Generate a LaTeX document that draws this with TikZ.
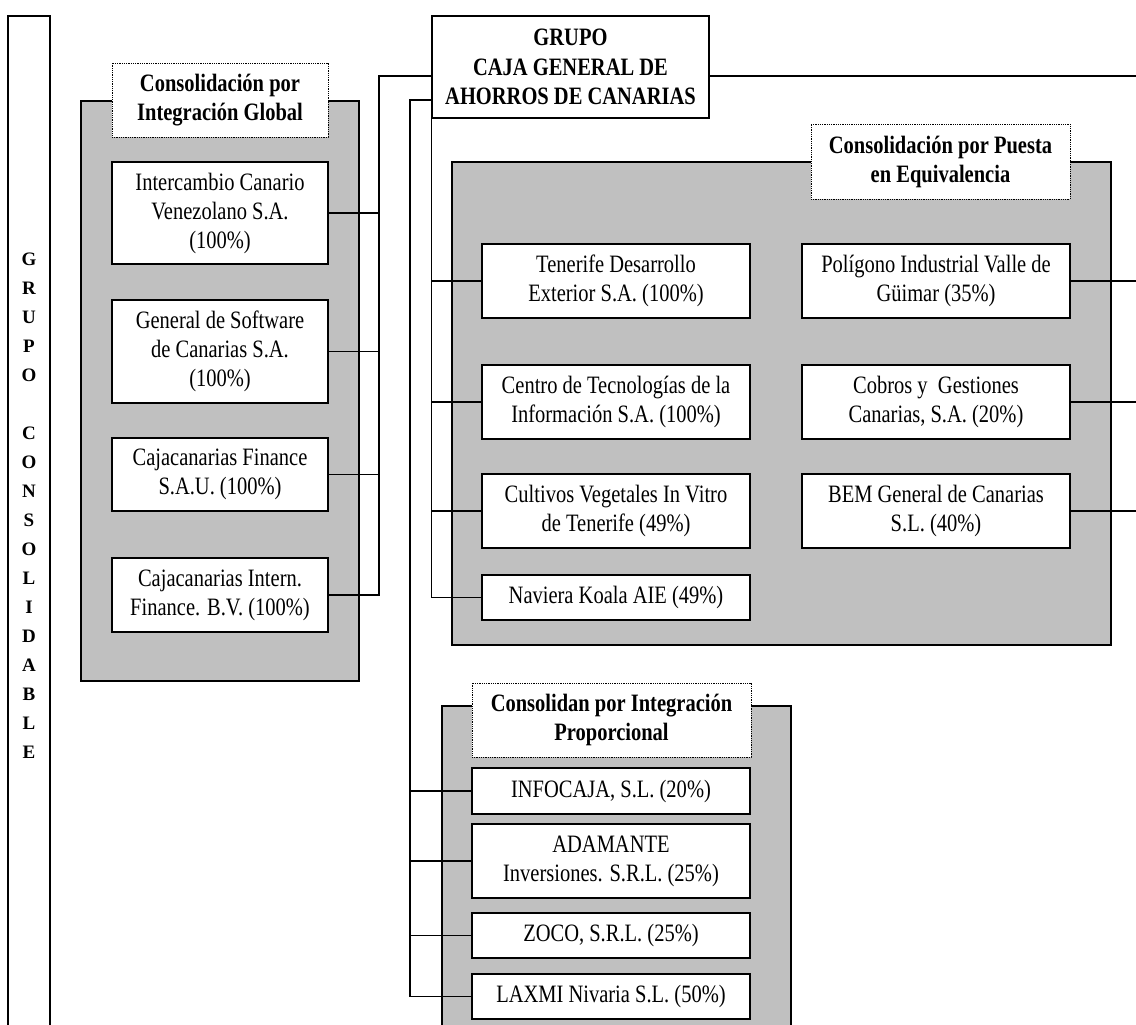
\documentclass[tikz,border=0pt]{standalone}
\usepackage{fontspec}
\setmainfont{Liberation Serif}[FakeStretch=0.82]
\newfontfamily\wideserif{Liberation Serif}
\usepackage{tikz}
\definecolor{panelgray}{HTML}{C0C0C0}

\begin{document}
\begin{tikzpicture}[x=1pt,y=-1pt,line width=1.2pt,
    box/.style={draw,fill=white,align=center,inner sep=0pt,font=\fontsize{25}{29}\selectfont},
    panel/.style={draw,fill=panelgray,inner sep=0pt},
    head/.style={draw,densely dotted,line width=0.8pt,fill=white,align=center,inner sep=0pt,font=\fontsize{25}{29}\selectfont\bfseries}]
          \useasboundingbox (0,0) rectangle (1136,1025);

          \draw (8,1025) |- (50,16) -- (50,1025);
          \node[align=center,font=\wideserif\fontsize{19}{29}\selectfont\bfseries] (gcons) at (29,506) {G\\R\\U\\P\\O\\[29pt]C\\O\\N\\S\\O\\L\\I\\D\\A\\B\\L\\E};

          \node[panel,minimum width=278pt,minimum height=580pt] (pglob) at (220,391) {};
          \node[panel,minimum width=659pt,minimum height=483pt] (pequi) at (781.5,403.5) {};
          \fill[panelgray] (442,706) rectangle (791,1025);
          \draw (442,1025) |- (791,706) -- (791,1025);

          \node[head,minimum width=216pt,minimum height=74pt] (hglob) at (220,100) {Consolidación por\\Integración Global};
          \node[head,minimum width=259pt,minimum height=75pt] (hequi) at (940.5,161.5) {Consolidación por Puesta\\en Equivalencia};
          \node[head,minimum width=279pt,minimum height=74pt] (hprop) at (611.5,720) {Consolidan por Integración\\Proporcional};

          \node[box,font=\fontsize{25}{29.5}\selectfont\bfseries,minimum width=277pt,minimum height=102pt] (caja) at (570.5,67) {GRUPO\\CAJA GENERAL DE\\AHORROS DE CANARIAS};

          \node[box,minimum width=216pt,minimum height=102pt] (icv) at (220,213) {Intercambio Canario\\Venezolano S.A.\\(100\%)};
          \node[box,minimum width=216pt,minimum height=103pt] (gsc) at (220,351.5) {General de Software\\de Canarias S.A.\\(100\%)};
          \node[box,minimum width=216pt,minimum height=73pt] (ccf) at (220,474.5) {Cajacanarias Finance\\S.A.U. (100\%)};
          \node[box,minimum width=216pt,minimum height=74pt] (cci) at (220,595) {Cajacanarias Intern.\\Finance. B.V. (100\%)};

          \node[box,minimum width=268pt,minimum height=74pt] (tde) at (616,281) {Tenerife Desarrollo\\Exterior S.A. (100\%)};
          \node[box,minimum width=268pt,minimum height=74pt] (cti) at (616,402) {Centro de Tecnologías de la\\Información S.A. (100\%)};
          \node[box,minimum width=268pt,minimum height=74pt] (cvt) at (616,511) {Cultivos Vegetales In Vitro\\de Tenerife (49\%)};
          \node[box,minimum width=268pt,minimum height=45pt] (nka) at (616,597.5) {Naviera Koala AIE (49\%)};
          \node[box,minimum width=268pt,minimum height=74pt] (piv) at (936,281) {Polígono Industrial Valle de\\Güimar (35\%)};
          \node[box,minimum width=268pt,minimum height=74pt] (cgc) at (936,402) {Cobros y\ \ Gestiones\\Canarias, S.A. (20\%)};
          \node[box,minimum width=268pt,minimum height=74pt] (bem) at (936,511) {BEM General de Canarias\\S.L. (40\%)};

          \node[box,minimum width=278pt,minimum height=46pt] (info) at (611,791) {INFOCAJA, S.L. (20\%)};
          \node[box,minimum width=278pt,minimum height=74pt] (adam) at (611,861) {ADAMANTE\\Inversiones. S.R.L. (25\%)};
          \node[box,minimum width=278pt,minimum height=45pt] (zoco) at (611,935.5) {ZOCO, S.R.L. (25\%)};
          \node[box,minimum width=278pt,minimum height=45pt] (laxmi) at (611,996.5) {LAXMI Nivaria S.L. (50\%)};

          \coordinate (busg) at (379,0);
          \coordinate (busp) at (410,0);
          \coordinate (rim) at (1136,0);

          \draw ([yshift=-9pt]caja.west) -| (cci.east -| busg) -- (cci.east);
          \foreach \b in {icv,gsc,ccf} \draw (\b.east) -- (\b.east -| busg);

          \draw ([yshift=-33pt]caja.west) -| (laxmi.west -| busp) -- (laxmi.west);
          \foreach \b in {info,adam,zoco} \draw (\b.west) -- (\b.west -| busp);

          \draw (caja.south west) |- (nka.west);
          \foreach \b in {tde,cti,cvt} \draw (\b.west) -- (\b.west -| caja.south west);

          \draw ([yshift=-9pt]caja.east) -- ([yshift=-9pt]caja.east -| rim);
          \foreach \b in {piv,cgc,bem} \draw (\b.east) -- (\b.east -| rim);
\end{tikzpicture}
\end{document}
